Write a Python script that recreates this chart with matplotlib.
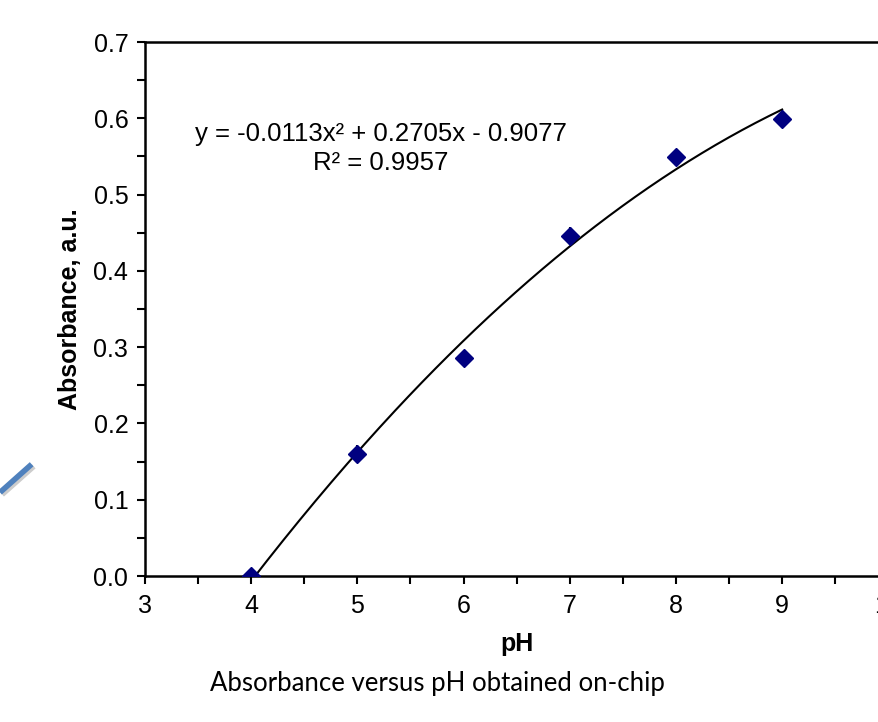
import numpy as np
import matplotlib.pyplot as plt
from matplotlib.lines import Line2D
from matplotlib.ticker import MultipleLocator
import matplotlib.patheffects as pe

# data
ph = [4, 5, 6, 7, 8, 9]
absorbance = [0.0, 0.160, 0.286, 0.446, 0.549, 0.599]
err = [0.0, 0.012, 0.006, 0.012, 0.011, 0.012]

# trendline coefficients shown on the chart
coef = [-0.0113, 0.2705, -0.9077]
eq_text = "y = -0.0113x² + 0.2705x - 0.9077"
r2_text = "R² = 0.9957"

plt.rcParams['font.family'] = ['Liberation Sans', 'DejaVu Sans']

fig = plt.figure(figsize=(8.79, 7.22), dpi=100)
ax = fig.add_axes([0.165, 0.2022, 0.8456, 0.7396])

xs = np.linspace(4, 9, 200)
ax.plot(xs, np.polyval(coef, xs), color='black', lw=1.5)
ax.errorbar(ph, absorbance, yerr=err, fmt='D', color='#000080', ms=9,
            ecolor='black', elinewidth=1.5, capsize=0, zorder=3)

ax.set_xlim(3, 10)
ax.set_ylim(0, 0.7)
ax.xaxis.set_major_locator(MultipleLocator(1))
ax.xaxis.set_minor_locator(MultipleLocator(0.5))
ax.yaxis.set_major_locator(MultipleLocator(0.1))
ax.yaxis.set_minor_locator(MultipleLocator(0.05))
ax.yaxis.set_major_formatter(plt.FormatStrFormatter('%.1f'))
ax.tick_params(which='both', direction='out', length=6, width=1.5, labelsize=18)
ax.tick_params(axis='x', pad=7)
ax.tick_params(axis='y', pad=6)
for s in ax.spines.values():
    s.set_linewidth(1.8)

ax.set_xlabel('pH', fontsize=18, fontweight='bold', labelpad=10)
ax.set_ylabel('Absorbance, a.u.', fontsize=18, fontweight='bold', labelpad=8)

ax.text(5.22, 0.58, eq_text, ha='center', va='center', fontsize=18.5)
ax.text(5.22, 0.541, r2_text, ha='center', va='center', fontsize=18.5)

fig.text(0.498, 0.054, 'Absorbance versus pH obtained on-chip',
         ha='center', va='center', fontsize=18.5, family=['Lato', 'DejaVu Sans'])

# decorative blue stroke at left
stroke = Line2D([0.0, 0.036], [0.318, 0.357], transform=fig.transFigure,
                color='#4F81BD', lw=4, solid_capstyle='butt',
                path_effects=[pe.SimpleLineShadow(offset=(1.5, -1.5), alpha=0.2), pe.Normal()])
fig.add_artist(stroke)

fig.savefig('out.png', dpi=100)
